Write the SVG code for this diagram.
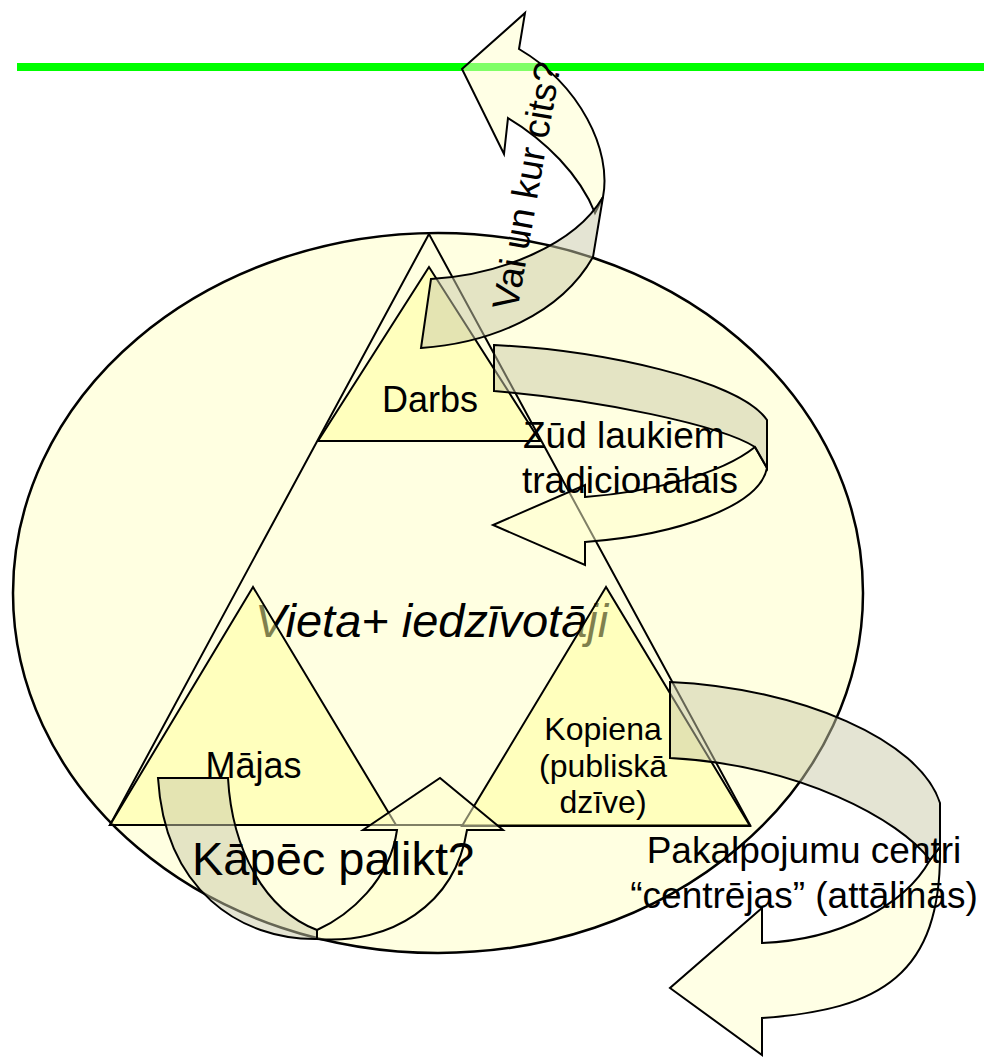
<svg xmlns="http://www.w3.org/2000/svg" width="984" height="1057" viewBox="0 0 984 1057">
<style>
text{font-family:"Liberation Sans",Arial,sans-serif;fill:#000}
.tri{fill:#FFFF99;fill-opacity:.5;stroke:#000;stroke-width:2;stroke-linejoin:miter}
.front{fill:#FFFFCC;fill-opacity:.5;stroke:#000;stroke-width:2;stroke-linejoin:miter}
.back{fill:#C9C9A8;fill-opacity:.5;stroke:#000;stroke-width:2;stroke-linejoin:miter}
</style>
<rect width="984" height="1057" fill="#fff"/>
<line x1="17" y1="67" x2="984" y2="67" stroke="#00FF00" stroke-width="8"/>
<g id="place">
<ellipse cx="438" cy="593" rx="425" ry="360" fill="#FFFFC4" fill-opacity=".5" stroke="#000" stroke-width="2.5"/>
<polygon points="429,234 110,825 750,825" fill="none" stroke="#000" stroke-width="2"/>
<text x="255" y="637" font-size="47" font-style="italic">Vieta+ iedzīvotāji</text>
</g>
<g id="darbs">
<polygon class="tri" points="429,267 318,441 540,441"/>
<text x="430" y="412" font-size="36" text-anchor="middle">Darbs</text>
</g>
<g id="majas">
<polygon class="tri" points="253,587 110,825 396,825"/>
<text x="253.5" y="778" font-size="36" text-anchor="middle">Mājas</text>
</g>
<g id="kopiena">
<polygon class="tri" points="606,587 462,826 750,826"/>
<text x="603" y="740" font-size="32" text-anchor="middle">Kopiena</text>
<text x="603" y="777" font-size="32" text-anchor="middle">(publiskā</text>
<text x="603" y="813" font-size="32" text-anchor="middle">dzīve)</text>
</g>
<g id="connectors">
<g id="arrow-top">
<path class="front" d="M603,197 C612,150 580,85 519,49 L525,13 L462,69 L504,154 L508,118 C545,140 580,175 595,213 Z"/>
<path class="back" d="M431,279 C500,275 575,245 603,197 L593,257 C560,315 490,343 421,348 Z"/>
</g>
<g id="arrow-mid">
<path class="front" d="M755,447 C720,475 650,492 585,497 L585,485 L493,525 L585,565 L585,542 C680,535 760,505 767,468 Z"/>
<path class="back" d="M494,345 C600,350 740,380 767,420 L767,468 L755,447 C720,425 600,400 494,391 Z"/>
</g>
<g id="arrow-right">
<path class="front" d="M930,860 C905,905 840,940 762,943 L762,908 L670,988 L762,1055 L762,1018 C880,1010 942,975 940,847 Z"/>
<path class="back" d="M670,682 C800,688 920,740 940,803 L940,847 L930,860 C900,820 800,765 670,758 Z"/>
</g>
<g id="arrow-left">
<path class="front" d="M317,930 C350,915 390,880 397,830 L363,830 L440,778 L503,830 L467,830 C455,905 390,945 317,939 Z"/>
<path class="back" d="M158,778 L228,778 C232,850 265,910 317,930 L317,939 C240,940 165,890 158,778 Z"/>
</g>
</g>
<g id="labels">
<text x="523" y="448" font-size="37">Zūd laukiem</text>
<text x="522" y="493" font-size="37">tradicionālais</text>
<text x="192" y="875" font-size="47">Kāpēc palikt?</text>
<text x="804" y="863" font-size="37" text-anchor="middle">Pakalpojumu centri</text>
<text x="804" y="908" font-size="37" text-anchor="middle">“centrējas” (attālinās)</text>
<text transform="translate(539,188) rotate(-80)" font-size="37" text-anchor="middle">Vai un kur cits?</text>
</g>
</svg>
